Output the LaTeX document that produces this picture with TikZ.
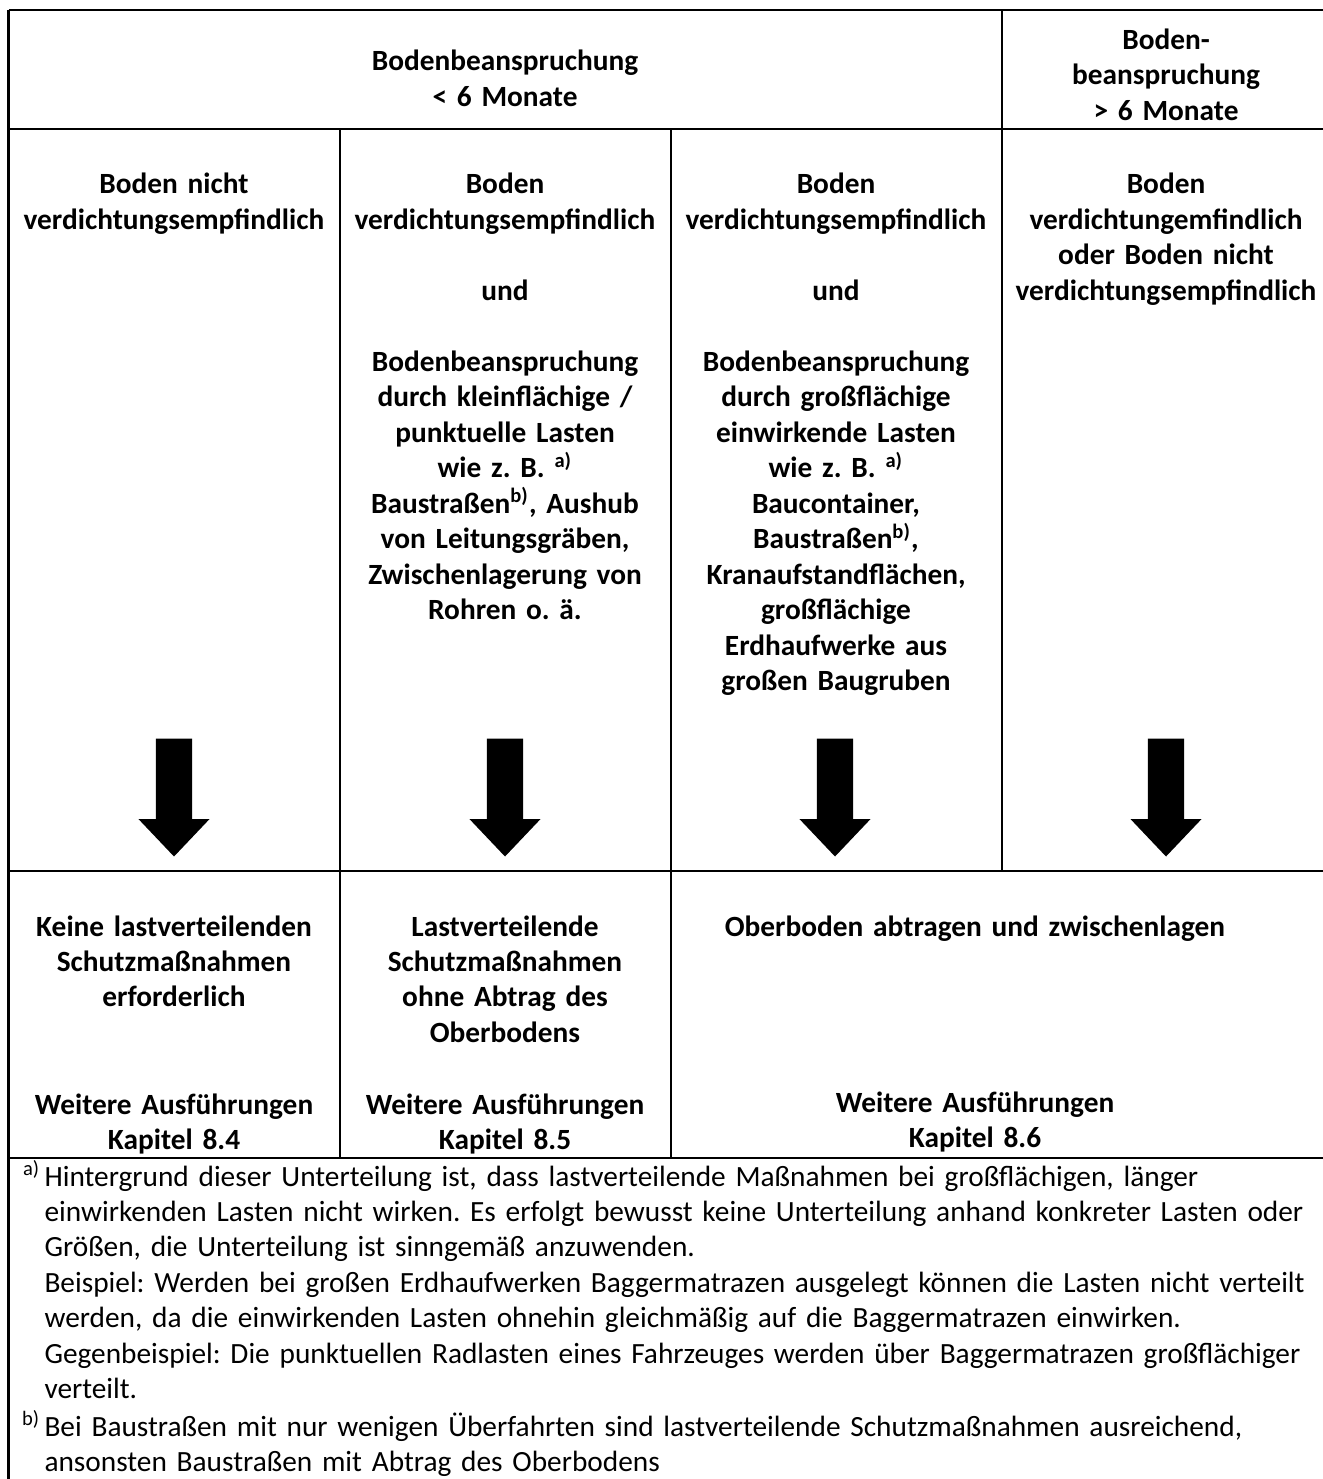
\documentclass[tikz,border=0pt]{standalone}
\usepackage{fontspec}
\setmainfont{Carlito}
\frenchspacing
\usetikzlibrary{shapes.arrows}
\tikzstyle{tabline}=[draw,line width=0.9pt]
\tikzstyle{cellhead}=[anchor=base,text width=122pt,align=center,inner sep=0pt,font=\fontsize{11}{13.3}\selectfont\bfseries]
\tikzstyle{note}=[anchor=base west,text width=560pt,align=left,inner sep=0pt,font=\fontsize{11}{13.3}\selectfont]
\tikzstyle{bigarrow}=[single arrow,fill=black,inner xsep=0pt,inner ysep=6.56pt,minimum height=44.25pt,minimum width=26.25pt,single arrow head extend=6.56pt,single arrow tip angle=87,rotate=-90]
\newcommand{\emptyrow}{\\[13.3pt]}

\begin{document}
\begin{tikzpicture}[x=0.375pt,y=-0.375pt]
            \useasboundingbox (0,0) rectangle (1322,1479);

            % table rules
            \path[tabline] (8.5,10) -- (1340,10);
            \path[tabline] (8.5,129) -- (1340,129);
            \path[tabline] (8.5,871) -- (1340,871);
            \path[tabline] (8.5,1158) -- (1340,1158);
            \path[tabline] (8.5,10) -- (8.5,1490);
            \path[tabline] (340,129) -- (340,1158);
            \path[tabline] (671,129) -- (671,1158);
            \path[tabline] (1002,10) -- (1002,871);

            % header row
            \node[cellhead,text width=300pt] (short) at (505,71) {Bodenbeanspruchung\\< 6 Monate};
            \node[cellhead] (long) at (1166,49.5) {Boden-\\beanspruchung\\> 6 Monate};

            % cases
            \node[cellhead] (case1) at (174,194) {Boden nicht\\verdichtungsempfindlich};
            \node[cellhead] (case2) at (505,194) {Boden\\verdichtungsempfindlich\emptyrow und\emptyrow
                Bodenbeanspruchung\\durch kleinflächige /\\punktuelle Lasten\\wie z. B. \textsuperscript{a)}\\
                Baustraßen\textsuperscript{b)}, Aushub\\von Leitungsgräben,\\Zwischenlagerung von\\Rohren o. ä.};
            \node[cellhead] (case3) at (836,194) {Boden\\verdichtungsempfindlich\emptyrow und\emptyrow
                Bodenbeanspruchung\\durch großflächige\\einwirkende Lasten\\wie z. B. \textsuperscript{a)}\\
                Baucontainer,\\Baustraßen\textsuperscript{b)},\\Kranaufstandflächen,\\großflächige\\
                Erdhaufwerke aus\\großen Baugruben};
            \node[cellhead] (case4) at (1166,194) {Boden\\verdichtungemfindlich\\oder Boden nicht\\verdichtungsempfindlich};

            % arrows
            \node[bigarrow] (arrow1) at (174,788) {};
            \node[bigarrow] (arrow2) at (505,788) {};
            \node[bigarrow] (arrow3) at (835,788) {};
            \node[bigarrow] (arrow4) at (1166,788) {};

            % measures
            \node[cellhead] (measure1) at (174,936) {Keine lastverteilenden\\Schutzmaßnahmen\\erforderlich};
            \node[cellhead] (measure2) at (505,936) {Lastverteilende\\Schutzmaßnahmen\\ohne Abtrag des\\Oberbodens};
            \node[cellhead,text width=240pt] (measure3) at (975,936) {Oberboden abtragen und zwischenlagen};

            \node[cellhead] (ref1) at (174,1114) {Weitere Ausführungen\\Kapitel 8.4};
            \node[cellhead] (ref2) at (505,1114) {Weitere Ausführungen\\Kapitel 8.5};
            \node[cellhead] (ref3) at (975,1112) {Weitere Ausführungen\\Kapitel 8.6};

            % footnotes
            \node[note] (notea) at (44,1186) {\llap{\textsuperscript{a)}\hspace{1.5pt}}Hintergrund dieser Unterteilung ist, dass lastverteilende Maßnahmen bei großflächigen, länger\\
                einwirkenden Lasten nicht wirken. Es erfolgt bewusst keine Unterteilung anhand konkreter Lasten oder\\
                Größen, die Unterteilung ist sinngemäß anzuwenden.\\
                Beispiel: Werden bei großen Erdhaufwerken Baggermatrazen ausgelegt können die Lasten nicht verteilt\\
                werden, da die einwirkenden Lasten ohnehin gleichmäßig auf die Baggermatrazen einwirken.\\
                Gegenbeispiel: Die punktuellen Radlasten eines Fahrzeuges werden über Baggermatrazen großflächiger\\
                verteilt.};
            \node[note] (noteb) at (44,1436) {\llap{\textsuperscript{b)}\hspace{1.5pt}}Bei Baustraßen mit nur wenigen Überfahrten sind lastverteilende Schutzmaßnahmen ausreichend,\\
                ansonsten Baustraßen mit Abtrag des Oberbodens};
        \end{tikzpicture}
\end{document}
